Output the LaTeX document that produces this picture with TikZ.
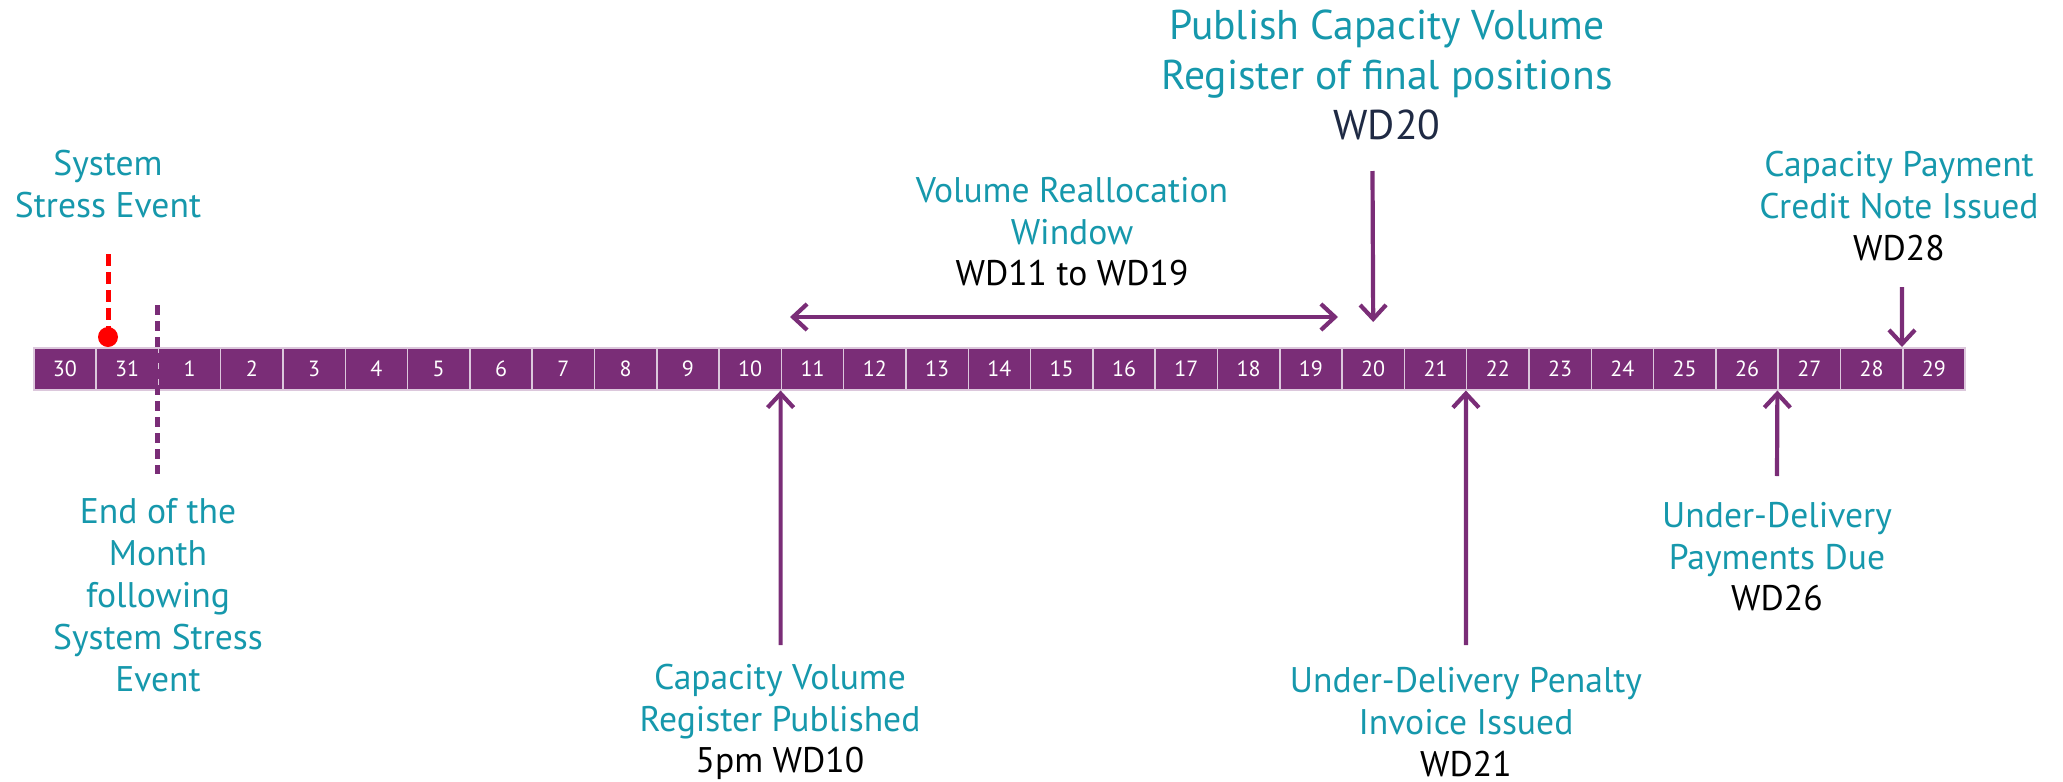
\documentclass[tikz,border=0pt]{standalone}
\usepackage{fontspec}
\setmainfont{PT Sans}
\usetikzlibrary{arrows.meta}
\definecolor{labteal}{RGB}{22,152,172}
\definecolor{barpurple}{RGB}{122,45,119}
\definecolor{cellline}{RGB}{220,200,220}
\definecolor{arrpurple}{RGB}{122,45,119}
\definecolor{navy}{RGB}{31,42,68}
\begin{document}
\begin{tikzpicture}[x=0.5pt,y=-0.5pt,
  cell/.style={draw=cellline, line width=0.75pt, fill=barpurple, minimum width=31.15pt, minimum height=21pt, inner sep=0pt, text=white, font=\fontsize{11}{13}\selectfont, anchor=north west},
  lab/.style={text=labteal, align=center, font=\fontsize{17.8}{20.8}\selectfont, inner sep=0pt},
  tipbarb/.tip={Straight Barb[length=7pt,width=13pt]},
  arr/.style={draw=arrpurple, line width=2.1pt, -tipbarb},
  darr/.style={draw=arrpurple, line width=2.1pt, tipbarb-tipbarb},
  redline/.style={draw=red, line width=2.5pt, dash pattern=on 6pt off 3pt},
  purpdash/.style={draw=arrpurple, line width=2.5pt, dash pattern=on 5pt off 3pt}]
\useasboundingbox (0,0) rectangle (2063,782);
% bar of cells
\foreach \lab [count=\k from 0] in {30,31,1,2,3,4,5,6,7,8,9,10,11,12,13,14,15,16,17,18,19,20,21,22,23,24,25,26,27,28,29}
  \node[cell] (c\lab) at ({33+62.3*\k},347) {\lab};
% system stress event
\node[lab] (sse) at (108,184) {System\\Stress Event};
\coordinate (ssetop) at (108,254);
\coordinate (ssedot) at (108,337);
\draw[redline] (ssetop) -- (ssedot);
\fill[red] (ssedot) circle (5pt);
% end of month
\coordinate (eomtop) at (157.6,305);
\coordinate (eombot) at (157.6,474);
\draw[purpdash] (eomtop) -- (eombot);
\node[lab, font=\fontsize{17.8}{21}\selectfont] (eom) at (158,595) {End of the\\Month\\following\\System Stress\\Event};
% volume reallocation window
\node[lab] (vrw) at (1072,232) {Volume Reallocation\\Window\\{\color{black}WD11 to WD19}};
\coordinate (vwl) at (790,317);
\coordinate (vwr) at (1338,317);
\draw[darr] (vwl) -- (vwr);
% publish
\node[lab, font=\fontsize{20.8}{25}\selectfont] (pub) at (1387,75) {Publish Capacity Volume\\Register of final positions\\{\color{navy}WD20}};
\coordinate (pubtail) at (1372.5,171);
\draw[arr] (pubtail) -- ([yshift=12.5pt]c20.north);
% capacity payment credit note
\node[lab] (cpc) at (1899,206) {Capacity Payment\\Credit Note Issued\\{\color{black}WD28}};
\coordinate (cpctail) at (1902,287);
\draw[arr] (cpctail) -- (c29.north west);
% capacity volume register published
\node[lab] (cvr) at (780,722) {Capacity Volume\\Register Published\\{\color{black}5pm WD10}};
\coordinate (cvrtail) at (780.6,645);
\draw[arr] (cvrtail) -- (c11.south west);
% under-delivery penalty
\node[lab] (udp) at (1466,722) {Under-Delivery Penalty\\Invoice Issued\\{\color{black}WD21}};
\coordinate (udptail) at (1466,645);
\draw[arr] (udptail) -- (c22.south west);
% under-delivery payments due
\node[lab] (udd) at (1777,557) {Under-Delivery\\Payments Due\\{\color{black}WD26}};
\coordinate (uddtail) at (1777,476);
\draw[arr] (uddtail) -- (c27.south west);
\end{tikzpicture}
\end{document}
